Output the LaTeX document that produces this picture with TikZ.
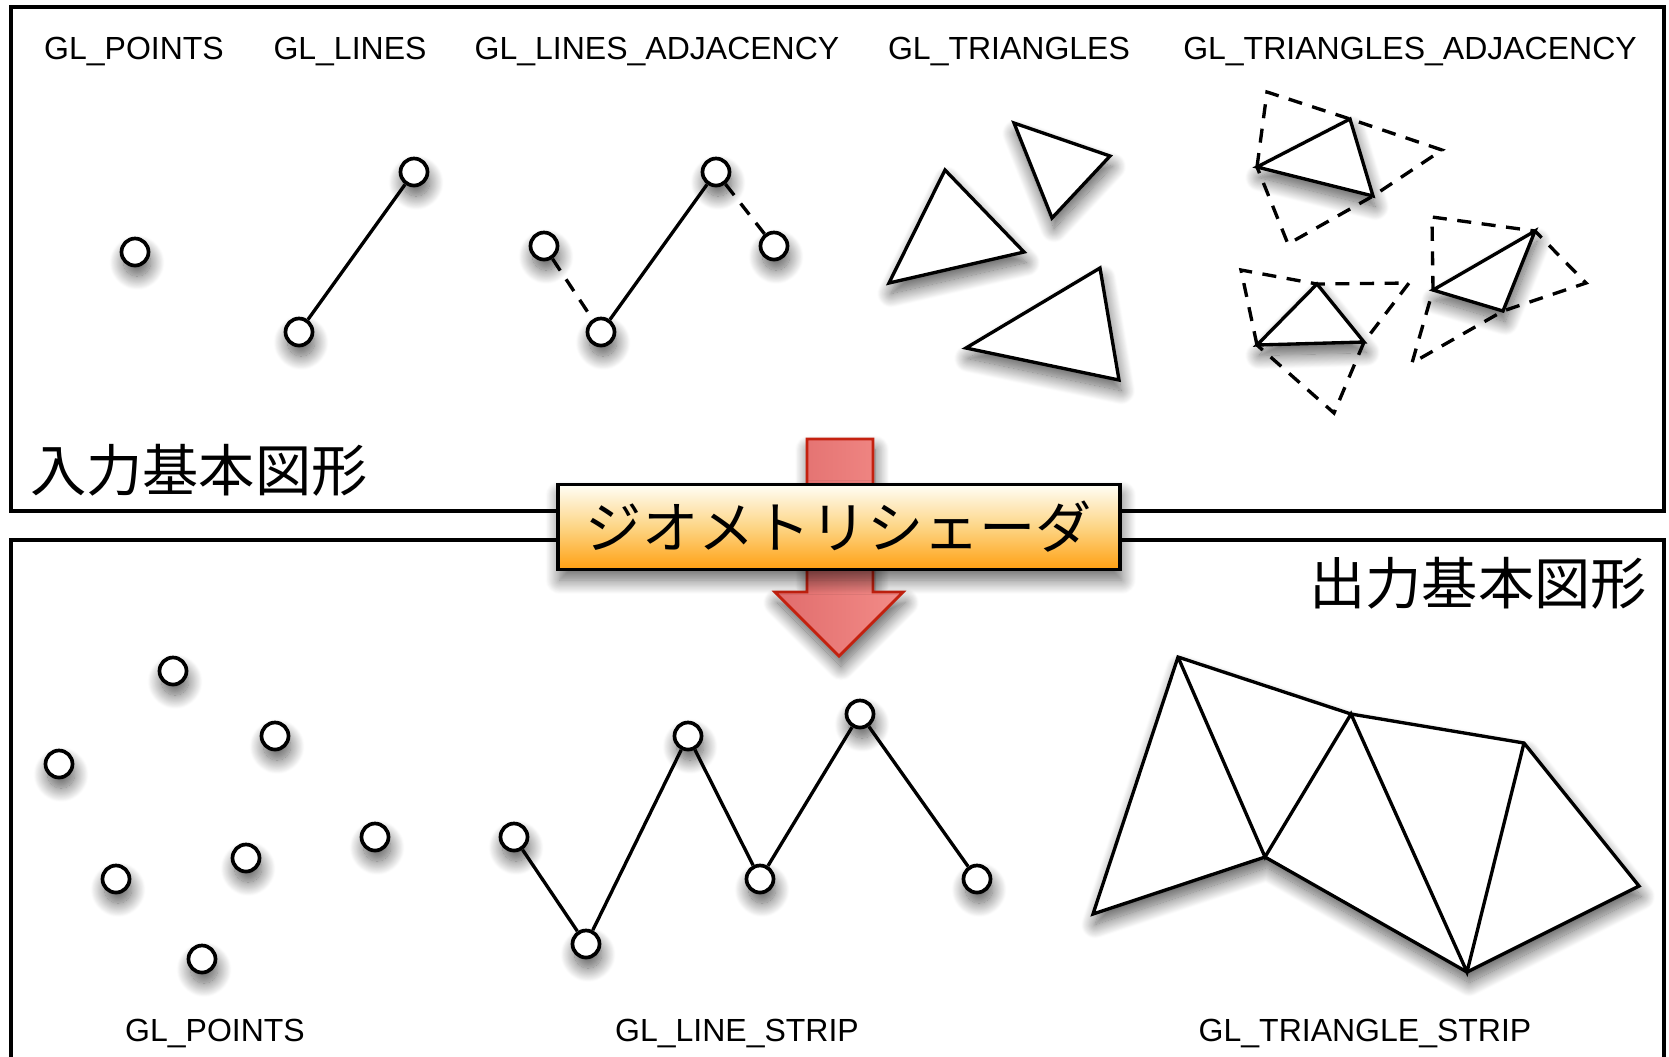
\documentclass[tikz,border=0pt]{standalone}
\usepackage{fontspec}
\setmainfont{Liberation Sans}
\newfontfamily\jpfont{Noto Sans CJK JP}
\usetikzlibrary{positioning,shadows.blur}
\definecolor{arrowFill}{HTML}{E06C6C}
\definecolor{arrowLight}{HTML}{F38C88}
\definecolor{arrowBorder}{HTML}{C4210F}
\definecolor{shaderTop}{HTML}{FFFEF6}
\definecolor{shaderMid}{HTML}{FDD585}
\definecolor{shaderBottom}{HTML}{FFA012}

\begin{document}
\begin{tikzpicture}[
    x=0.01cm, y=-0.01cm,
    panel/.style={line width=1.1pt},
    softshadow/.style={
        blur shadow={shadow xshift=0.6pt, shadow yshift=-3pt,
                     shadow blur radius=4pt, shadow blur steps=20,
                     shadow opacity=65}
    },
    vtx/.style={
        circle, draw, fill=white, line width=1.05pt,
        inner sep=0pt, minimum size=0.27cm, softshadow
    },
    seg/.style={line width=0.95pt},
    adj/.style={line width=0.95pt, dash pattern=on 4pt off 3pt},
    tri/.style={draw, fill=white, line width=0.95pt, softshadow},
    glname/.style={font=\fontsize{9.1}{11}\selectfont},
    jptitle/.style={font=\jpfont\fontsize{16}{19}\selectfont},
    shader/.style={
        rectangle, draw, line width=1.1pt,
        minimum width=5.62cm, minimum height=0.85cm,
        top color=shaderTop, bottom color=shaderBottom, middle color=shaderMid,
        font=\jpfont\fontsize{16}{19}\selectfont,
        blur shadow={shadow xshift=0.5pt, shadow yshift=-3pt,
                     shadow blur radius=4pt, shadow blur steps=20,
                     shadow opacity=60}
    },
    bigarrow/.style={
        draw=arrowBorder, line width=0.8pt, line join=miter,
        left color=arrowFill, right color=arrowLight, softshadow
    }
]
  \useasboundingbox (0,0) rectangle (1669,1056);

  % Panels
  \draw[panel] (11,7) rectangle (1664,511);
  \draw[panel] (11,1060) -- (11,540) -- (1664,540) -- (1664,1060);

  % Input primitive names
  \node[glname] (inPoints) at (134,51) {GL\_POINTS};
  \node[glname] (inLines) at (350,51) {GL\_LINES};
  \node[glname] (inLinesAdj) at (657,51) {GL\_LINES\_ADJACENCY};
  \node[glname] (inTris) at (1009,51) {GL\_TRIANGLES};
  \node[glname] (inTrisAdj) at (1410,51) {GL\_TRIANGLES\_ADJACENCY};

  % GL_POINTS
  \node[vtx] (p1) at (135,252) {};

  % GL_LINES
  \node[vtx] (l1) at (299,332) {};
  \node[vtx] (l2) at (414,172) {};
  \draw[seg] (l1) -- (l2);

  % GL_LINES_ADJACENCY
  \node[vtx] (a1) at (544,246) {};
  \node[vtx] (a2) at (601,332) {};
  \node[vtx] (a3) at (716,172) {};
  \node[vtx] (a4) at (774,246) {};
  \draw[adj] (a1) -- (a2);
  \draw[seg] (a2) -- (a3);
  \draw[adj] (a3) -- (a4);

  % GL_TRIANGLES
  \filldraw[tri] (945,170) -- (1024,252) -- (889,283) -- cycle;
  \filldraw[tri] (1014,123) -- (1110,156) -- (1052,218) -- cycle;
  \filldraw[tri] (1100,268) -- (1119,380) -- (966,348) -- cycle;

  % GL_TRIANGLES_ADJACENCY
  \coordinate (ta0) at (1257,167); \coordinate (ta1) at (1267,92);
  \coordinate (ta2) at (1350,119); \coordinate (ta3) at (1442,150);
  \coordinate (ta4) at (1373,196); \coordinate (ta5) at (1288,244);
  \draw[adj] (ta0) -- (ta1) -- (ta2) -- (ta3) -- (ta4) -- (ta5) -- cycle;
  \filldraw[tri] (ta0) -- (ta2) -- (ta4) -- cycle;

  \coordinate (tb0) at (1257,345); \coordinate (tb1) at (1241,270);
  \coordinate (tb2) at (1317,284); \coordinate (tb3) at (1409,283);
  \coordinate (tb4) at (1364,342); \coordinate (tb5) at (1334,413);
  \draw[adj] (tb0) -- (tb1) -- (tb2) -- (tb3) -- (tb4) -- (tb5) -- cycle;
  \filldraw[tri] (tb0) -- (tb2) -- (tb4) -- cycle;

  \coordinate (tc0) at (1433,290); \coordinate (tc1) at (1432,217);
  \coordinate (tc2) at (1535,231); \coordinate (tc3) at (1586,283);
  \coordinate (tc4) at (1503,311); \coordinate (tc5) at (1412,363);
  \draw[adj] (tc0) -- (tc1) -- (tc2) -- (tc3) -- (tc4) -- (tc5) -- cycle;
  \filldraw[tri] (tc0) -- (tc2) -- (tc4) -- cycle;

  % Panel titles
  \node[jptitle] (inTitle) at (199,470) {入力基本図形};
  \node[jptitle] (outTitle) at (1478,583) {出力基本図形};

  % Output GL_POINTS
  \node[vtx] (bp1) at (173,671) {};
  \node[vtx] (bp2) at (275,736) {};
  \node[vtx] (bp3) at (59,764) {};
  \node[vtx] (bp4) at (375,837) {};
  \node[vtx] (bp5) at (246,858) {};
  \node[vtx] (bp6) at (116,879) {};
  \node[vtx] (bp7) at (202,959) {};

  % Output GL_LINE_STRIP
  \node[vtx] (ls1) at (514,837) {};
  \node[vtx] (ls2) at (586,944) {};
  \node[vtx] (ls3) at (688,736) {};
  \node[vtx] (ls4) at (760,879) {};
  \node[vtx] (ls5) at (860,714) {};
  \node[vtx] (ls6) at (977,879) {};
  \draw[seg] (ls1) -- (ls2);
  \draw[seg] (ls2) -- (ls3);
  \draw[seg] (ls3) -- (ls4);
  \draw[seg] (ls4) -- (ls5);
  \draw[seg] (ls5) -- (ls6);

  % Output GL_TRIANGLE_STRIP
  \coordinate (s0) at (1093,914); \coordinate (s1) at (1178,657);
  \coordinate (s2) at (1265,857); \coordinate (s3) at (1351,714);
  \coordinate (s4) at (1467,972); \coordinate (s5) at (1524,743);
  \coordinate (s6) at (1639,886);
  \filldraw[tri, line join=miter] (s0) -- (s1) -- (s3) -- (s5) -- (s6) -- (s4) -- (s2) -- cycle;
  \draw[seg] (s1) -- (s2) -- (s3) -- (s4) -- (s5);

  % Output primitive names
  \node[glname] (outPoints) at (215,1033) {GL\_POINTS};
  \node[glname] (outLineStrip) at (737,1033) {GL\_LINE\_STRIP};
  \node[glname] (outTriStrip) at (1365,1033) {GL\_TRIANGLE\_STRIP};

  % Geometry shader stage
  \path[bigarrow] (807,439) -- (873,439) -- (873,592) -- (903,592)
      -- (839,656) -- (775,592) -- (807,592) -- cycle;
  \node[shader] (gs) at (839,527) {ジオメトリシェーダ};

\end{tikzpicture}
\end{document}
